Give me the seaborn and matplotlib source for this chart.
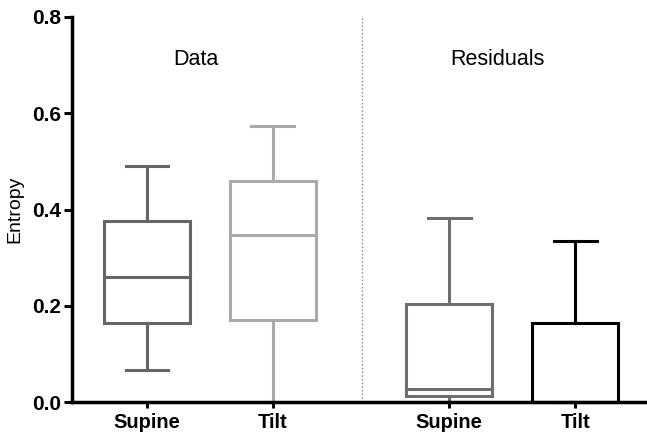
import pandas as pd
import seaborn as sns
import matplotlib.pyplot as plt

# -----------------------------------------------------------------------------
# 1. DADES (min, Q1, mediana, Q3, max per cada caixa)
# -----------------------------------------------------------------------------
groups = ['Data Supine', 'Data Tilt', 'Residuals Supine', 'Residuals Tilt']
tick_labels = ['Supine', 'Tilt', 'Supine', 'Tilt']
supine_data = [0.066, 0.164, 0.260, 0.376, 0.490]
tilt_data = [0.0, 0.170, 0.347, 0.459, 0.574]
supine_resid = [0.0, 0.0125, 0.027, 0.204, 0.382]
tilt_resid = [0.0, 0.0, 0.0, 0.164, 0.335]

# posicions (layout) i colors
positions = [1.0, 2.0, 3.4, 4.4]
colors = ['#666666', '#aaaaaa', '#6e6e6e', '#000000']

values = [supine_data, tilt_data, supine_resid, tilt_resid]
rows = []
for g, pos, vals in zip(groups, positions, values):
    for v in vals:
        rows.append({'group': g, 'pos': pos, 'value': v})
df = pd.DataFrame(rows)

# -----------------------------------------------------------------------------
# 2. FIGURA
# -----------------------------------------------------------------------------
sns.set_style('ticks')
plt.rcParams['font.family'] = ['Liberation Sans', 'DejaVu Sans']
plt.rcParams.update({'text.color': 'black', 'axes.labelcolor': 'black',
                     'xtick.color': 'black', 'ytick.color': 'black',
                     'axes.edgecolor': 'black'})

fig = plt.figure(figsize=(6.47, 4.37), dpi=100)
ax = fig.add_axes([72 / 647, 35 / 437, 1 - 72 / 647, 385 / 437])

sns.boxplot(data=df, x='pos', y='value', hue='group', palette=colors,
            native_scale=True, whis=(0, 100), width=0.68, fill=False,
            linewidth=2.2, legend=False, ax=ax)

for line in ax.lines:
    line.set_solid_capstyle('projecting')
    line.set_solid_joinstyle('miter')
    line.set_clip_on(False)
for p in ax.patches:
    p.set_joinstyle('miter')
    p.set_clip_on(False)

ax.set_xlim(0.405, 4.97)
ax.set_ylim(0, 0.8)
ax.set_yticks([0.0, 0.2, 0.4, 0.6, 0.8])
ax.set_yticklabels(['0.0', '0.2', '0.4', '0.6', '0.8'], fontsize=15, fontweight='bold')
ax.set_xticks(positions)
ax.set_xticklabels(tick_labels, fontsize=14.5, fontweight='bold')
ax.tick_params(axis='y', length=6, width=2.2, pad=2)
ax.tick_params(axis='x', length=4, width=2.2, pad=4)

ax.axvline(2.706, color='#888888', linestyle=':', linewidth=1.0)

ax.text(1.39, 0.711, 'Data', ha='center', va='center', fontsize=15.5)
ax.text(3.78, 0.711, 'Residuals', ha='center', va='center', fontsize=15.5)

ax.set_xlabel('')
ax.set_ylabel('Entropy', fontsize=14, labelpad=6)

sns.despine(ax=ax)
ax.spines['left'].set_linewidth(2.5)
ax.spines['bottom'].set_linewidth(2.5)

plt.savefig('out.png', dpi=100)
plt.close()
